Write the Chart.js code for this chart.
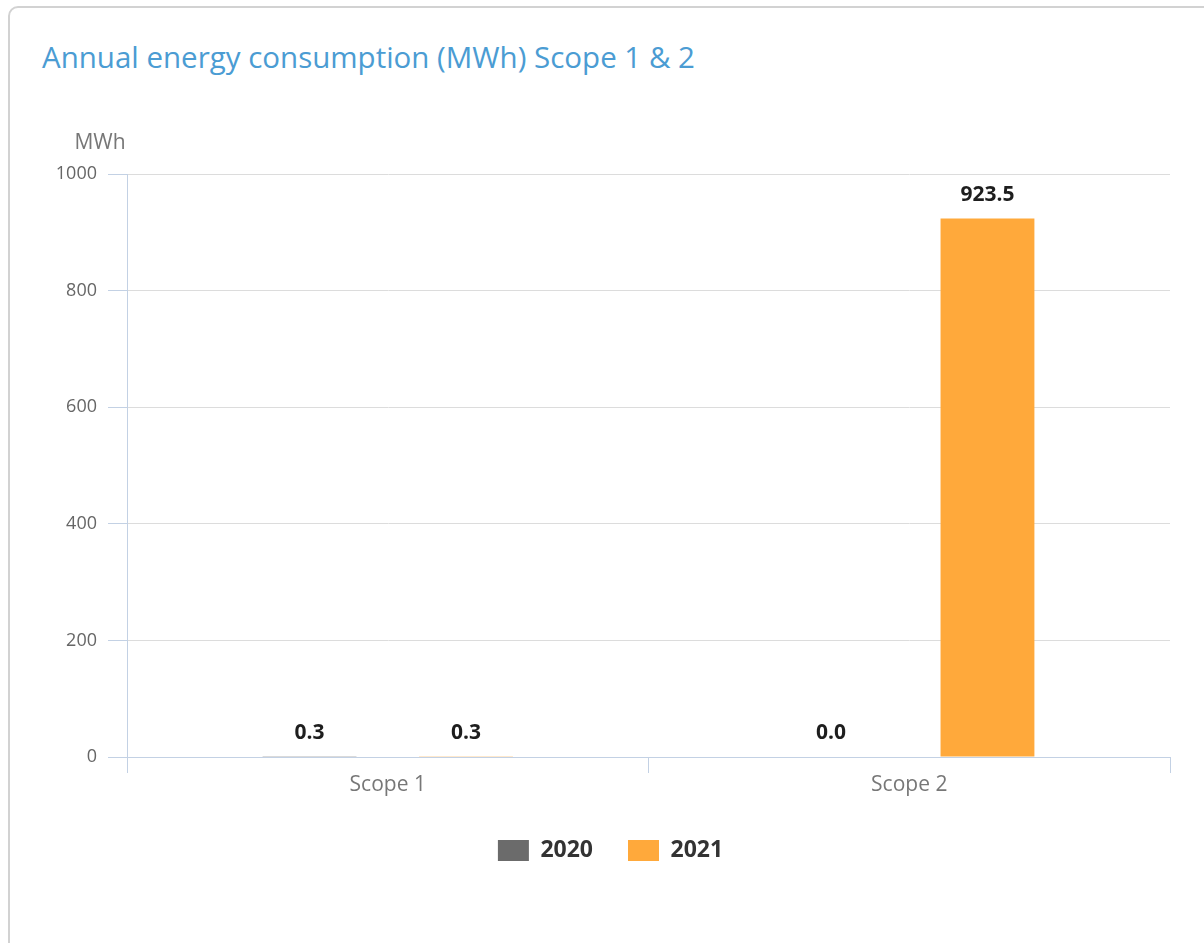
<!DOCTYPE html>
<html>
<head>
<meta charset="utf-8">
<script src="https://cdn.jsdelivr.net/npm/chart.js@4/dist/chart.umd.min.js"></script>
<style>
    body { margin: 0; width: 1204px; height: 943px; overflow: hidden; background: #fff; font-family: 'Open Sans', sans-serif; }
    .card { position: absolute; left: 8px; top: 6px; width: 1220px; height: 980px; border: 2px solid #d2d2d2; border-radius: 10px; box-sizing: border-box; }
    .title { position: absolute; left: 42px; top: 42px; font-size: 29.5px; line-height: 1; color: #4b9cd3; white-space: nowrap; }
    .wrap { position: absolute; left: 0; top: 0; width: 1204px; height: 943px; }
</style>
</head>
<body>
<div class="card"></div>
<div class="title">Annual energy consumption (MWh) Scope 1 &amp; 2</div>
<div class="wrap"><canvas id="energyChart"></canvas></div>
<script>
const categories = ['Scope 1', 'Scope 2'];
const years = ['2020', '2021'];
const values2020 = [0.3, 0.0];
const values2021 = [0.3, 923.5];
const yTicks = [0, 200, 400, 600, 800, 1000];

const energyChart = document.querySelector('#energyChart');

// value labels above each bar + the "MWh" unit over the y axis
const barLabels = {
    id: 'barLabels',
    afterLayout(chart) {
        // legend sits a bit right of the canvas centre in the original
        chart.legend.left += 51;
    },
    afterDatasetsDraw(chart) {
        const ctx = chart.ctx;
        ctx.save();
        ctx.font = 'bold 21px "Open Sans"';
        ctx.fillStyle = '#1e1e1e';
        ctx.textAlign = 'center';
        ctx.textBaseline = 'middle';
        chart.data.datasets.forEach(function (ds, i) {
            chart.getDatasetMeta(i).data.forEach(function (bar, j) {
                ctx.fillText(ds.data[j].toFixed(1), bar.x, bar.y - 24);
            });
        });
        ctx.font = '21px "Open Sans"';
        ctx.fillStyle = '#777';
        ctx.fillText('MWh', chart.chartArea.left - 27, chart.chartArea.top - 31);
        ctx.restore();
    }
};

new Chart(energyChart, {
    type: 'bar',
    data: {
        labels: categories,
        datasets: [
            { label: years[0], data: values2020, backgroundColor: '#6b6b6b' },
            { label: years[1], data: values2021, backgroundColor: '#ffa93b' }
        ]
    },
    options: {
        responsive: true,
        maintainAspectRatio: false,
        animation: false,
        categoryPercentage: 0.6,
        barPercentage: 0.6,
        layout: { padding: { top: 174, right: 34, left: 0, bottom: 71 } },
        plugins: {
            tooltip: { enabled: false },
            legend: {
                position: 'bottom',
                labels: {
                    boxWidth: 31,
                    boxHeight: 21,
                    padding: 35,
                    color: '#333',
                    font: { family: 'Open Sans', size: 23, weight: 'bold' }
                }
            }
        },
        scales: {
            x: {
                afterFit: function (s) { s.height = 47; },
                grid: { drawOnChartArea: false, tickLength: 16, color: '#c3d1e4' },
                border: { color: '#c3d1e4' },
                ticks: { padding: -1, color: '#777', font: { family: 'Open Sans', size: 21 } }
            },
            y: {
                min: 0,
                max: 1000,
                afterFit: function (s) { s.width = 127; },
                afterBuildTicks: function (s) { s.ticks = yTicks.map(function (v) { return { value: v }; }); },
                grid: { color: '#dcdcdc', tickColor: '#c3d1e4', tickLength: 19 },
                border: { color: '#c3d1e4' },
                ticks: {
                    padding: 11,
                    color: '#666',
                    font: { family: 'Open Sans', size: 18 },
                    callback: function (v) { return String(v); }
                }
            }
        }
    },
    plugins: [barLabels]
});
</script>
</body>
</html>
